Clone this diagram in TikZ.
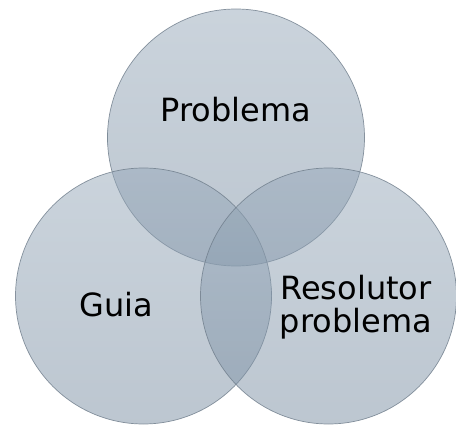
\documentclass[tikz,border=0pt]{standalone}
\usepackage{fontspec}
\setmainfont{DejaVu Sans}
\definecolor{ctop}{RGB}{150,168,185}
\definecolor{cbot}{RGB}{122,142,162}
\definecolor{cline}{RGB}{110,124,138}
\begin{document}
\begin{tikzpicture}[x=1pt,y=-1pt,
  venn/.style={top color=ctop,bottom color=cbot,fill opacity=0.5,draw=cline,draw opacity=0.8,line width=0.7pt},
  lbl/.style={font=\fontsize{32}{33}\selectfont,text=black,anchor=base,align=center,inner sep=0pt}]
\useasboundingbox (0,0) rectangle (456,425);
\path[venn] (236,137.5) circle[radius=128.5];
\path[venn] (143.5,296) circle[radius=128];
\path[venn] (328.5,296) circle[radius=128];
\node[lbl] (p) at (236,122) {Problema};
\node[lbl] (g) at (116,317) {Guia};
\node[lbl] (r) at (356,300) {Resolutor};
\node[lbl] (r2) at (356,333) {problema};
\end{tikzpicture}
\end{document}
